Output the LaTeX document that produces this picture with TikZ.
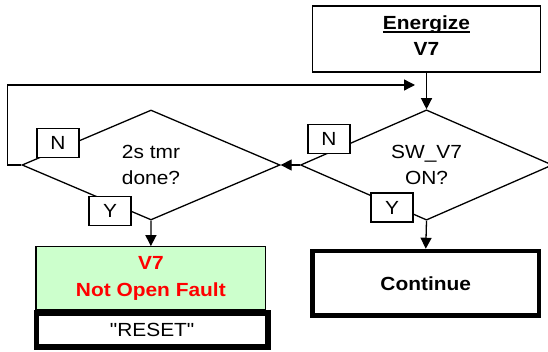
\documentclass[tikz,border=0pt]{standalone}
\usepackage{fontspec}
\setmainfont{Liberation Sans}[FakeStretch=1.1, Ligatures=TeXOff]
\usetikzlibrary{shapes.geometric,arrows.meta}
\definecolor{faultgreen}{HTML}{CCFFCC}
\definecolor{faultred}{HTML}{FF0000}
\newsavebox\ulbox
\newcommand\myul[1]{\sbox\ulbox{#1}\rlap{\rule[-3.4pt]{\wd\ulbox}{1.6pt}}\usebox\ulbox}
\begin{document}
\begin{tikzpicture}[x=1pt,y=-1pt,
  every node/.style={font=\fontsize{19}{26}\selectfont},
  arr/.style={line width=1.3pt,-{Triangle[length=11pt,width=11pt]}},
  decision/.style={diamond,draw,line width=1.3pt,inner sep=0pt,align=center},
  tag/.style={rectangle,draw,fill=white,line width=1.2pt,minimum width=42pt,minimum height=29pt,inner sep=0pt},
  plainbox/.style={rectangle,draw,line width=1.3pt,align=center,inner sep=0pt}
]
\useasboundingbox (0,0) rectangle (548,352);

\node[plainbox, minimum width=228pt, minimum height=66pt] (energize) at (426.5,39) {};
\node[align=center, inner sep=0pt, font=\fontsize{19}{26}\selectfont\bfseries] (energizetext) at (426.5,35.5)
  {\myul{Energize}\\V7};

\node[decision, minimum width=258pt, minimum height=110pt] (tmr) at (151,165) {2s tmr\\done?};
\node[decision, minimum width=252pt, minimum height=108pt] (sw) at (426.5,165) {SW\_V7\\ON?};

\node[tag] (tmrN) at (58,143) {N};
\node[tag] (tmrY) at (110,211) {Y};
\node[tag] (swN) at (329,139) {N};
\node[tag] (swY) at (392,207.5) {Y};

\node[plainbox, line width=1.2pt, fill=faultgreen, text=faultred,
  minimum width=229.7pt, minimum height=63.3pt,
  font=\fontsize{19}{27.5}\selectfont\bfseries] (fault) at (150.85,278.35) {V7\\Not Open Fault};
\node[plainbox, line width=5.5pt, fill=white, minimum width=231.7pt, minimum height=34pt] (reset) at (152.15,330) {"RESET"};
\node[plainbox, line width=4.5pt, fill=white, minimum width=226.5pt, minimum height=64.5pt,
  font=\fontsize{19}{26}\selectfont\bfseries] (continue) at (425.75,283.25) {Continue};

\coordinate (loopend) at (415,85);
\draw[arr] (energize.south) -- (sw.north);
\draw[arr] (sw.west) -- (tmr.east);
\draw[arr] (tmr.south) -- (fault.north);
\draw[arr] (sw.south) -- (continue.north);
\draw[arr] (tmr.west) -- ++(-14,0) |- (loopend);
\end{tikzpicture}
\end{document}
